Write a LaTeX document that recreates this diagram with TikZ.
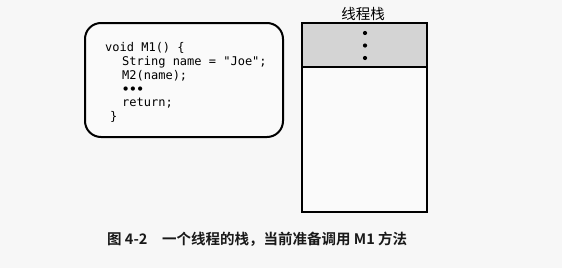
\documentclass[tikz,border=0pt]{standalone}
\usepackage{fontspec}
\setmainfont{Liberation Sans}
\newfontfamily\codefont{DejaVu Sans Mono}
\newfontfamily\cjk{Noto Sans CJK SC}
\newfontfamily\cjkbold{Noto Sans CJK SC Bold}
\begin{document}
\begin{tikzpicture}[x=1pt,y=-1pt,
  frame/.style={draw=black,line width=2pt},
  codeline/.style={anchor=base west,inner sep=0pt,font=\codefont\fontsize{12}{13}\selectfont,text=black},
  stackdot/.style={circle,fill=black,inner sep=0pt,minimum size=4.2pt},
  caption/.style={anchor=base west,inner sep=0pt,font=\cjkbold\fontsize{14.5}{15}\selectfont,text=black!90}]
  % canvas
  \fill[white!97!black] (0,0) rectangle (562,268);
  \useasboundingbox (0,0) rectangle (562,268);

  % method body box
  \draw[frame,rounded corners=16pt,fill=white!98!black] (85,23) rectangle (283,137);
  \node[codeline] (l1) at (105,51) {void M1() \{};
  \node[codeline] (l2) at (122,65) {String name = "Joe";};
  \node[codeline] (l3) at (122,79) {M2(name);};
  \node[codeline,font=\codefont\bfseries\fontsize{12}{13}\selectfont] (l4) at (122,93) {•••};
  \node[codeline] (l5) at (122,106) {return;};
  \node[codeline] (l6) at (110,120) {\}};

  % thread stack
  \node[font=\cjk\fontsize{14.5}{15}\selectfont,inner sep=0pt] (title) at (363,13.5) {线程栈};
  \fill[black!17] (302,23) rectangle (427,67);
  \fill[white!98!black] (302,67) rectangle (427,212);
  \draw[frame] (302,67) -- (427,67);
  \draw[frame] (302,23) rectangle (427,212);
  \node[stackdot] (d1) at (365,33) {};
  \node[stackdot] (d2) at (365,45.5) {};
  \node[stackdot] (d3) at (365,58) {};

  % caption
  \node[caption] (fig) at (107,244) {图 4-2};
  \node[caption] (cap) at (162,244) {一个线程的栈，当前准备调用 M1 方法};
\end{tikzpicture}
\end{document}
